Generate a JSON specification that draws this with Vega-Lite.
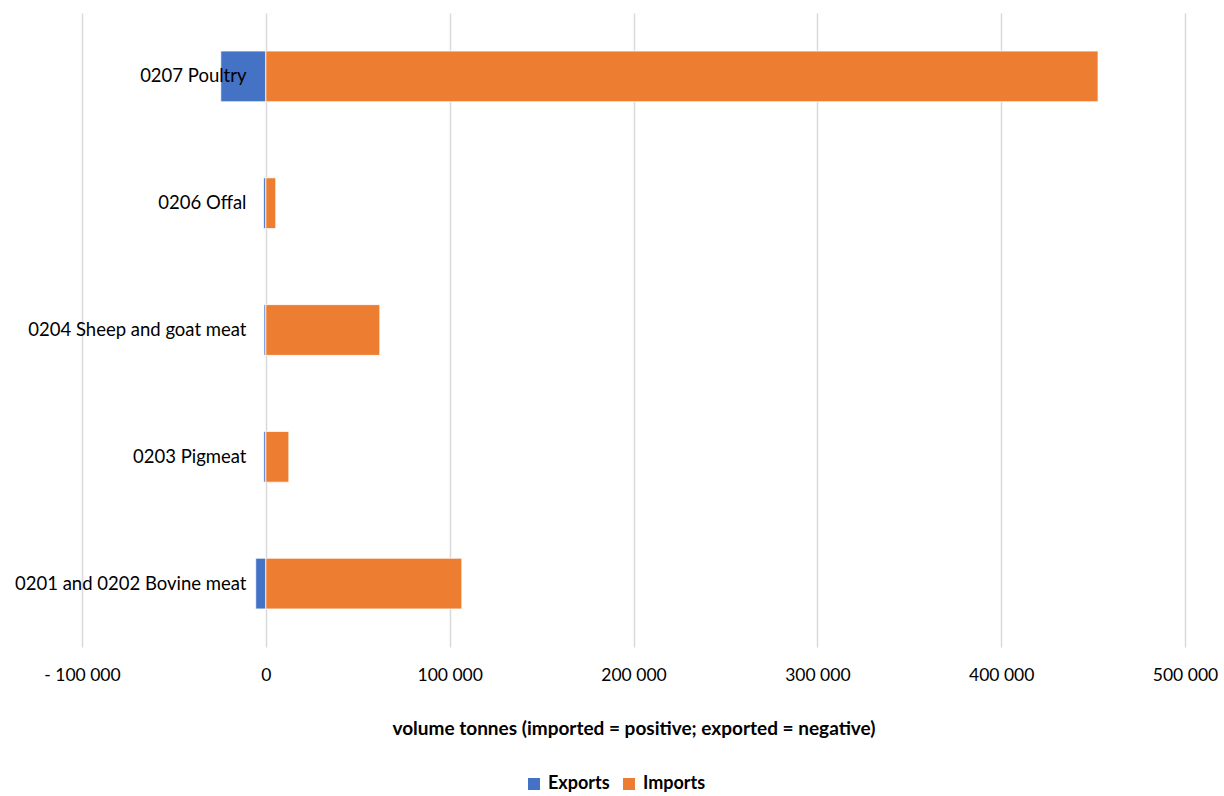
{
  "$schema": "https://vega.github.io/schema/vega-lite/v6.json",
  "autosize": "none",
  "width": 1103,
  "height": 634,
  "padding": {"left": 82, "top": 13, "right": 39, "bottom": 149},
  "background": "white",
  "config": {
    "font": "Lato",
    "view": {"stroke": null}
  },
  "data": {
    "values": [
      {"product": "0207 Poultry", "flow": "Exports", "volume": -24500},
      {"product": "0207 Poultry", "flow": "Imports", "volume": 452700},
      {"product": "0206 Offal", "flow": "Exports", "volume": -1200},
      {"product": "0206 Offal", "flow": "Imports", "volume": 5400},
      {"product": "0204 Sheep and goat meat", "flow": "Exports", "volume": -1000},
      {"product": "0204 Sheep and goat meat", "flow": "Imports", "volume": 62000},
      {"product": "0203 Pigmeat", "flow": "Exports", "volume": -1100},
      {"product": "0203 Pigmeat", "flow": "Imports", "volume": 12500},
      {"product": "0201 and 0202 Bovine meat", "flow": "Exports", "volume": -5500},
      {"product": "0201 and 0202 Bovine meat", "flow": "Imports", "volume": 106600}
    ]
  },
  "mark": {"type": "bar", "stroke": "white", "strokeWidth": 0.75},
  "encoding": {
    "y": {
      "field": "product",
      "type": "nominal",
      "sort": ["0207 Poultry", "0206 Offal", "0204 Sheep and goat meat", "0203 Pigmeat", "0201 and 0202 Bovine meat"],
      "scale": {"paddingInner": 0.6, "paddingOuter": 0.3},
      "axis": {
        "title": null,
        "domain": false,
        "ticks": false,
        "grid": false,
        "zindex": 1,
        "offset": -184,
        "labelPadding": 20,
        "labelFontSize": 18.5,
        "labelColor": "#000000",
        "labelLimit": 400
      }
    },
    "x": {
      "field": "volume",
      "type": "quantitative",
      "stack": "zero",
      "scale": {"domain": [-100000, 500000], "nice": false, "zero": false},
      "axis": {
        "title": "volume tonnes (imported = positive; exported = negative)",
        "titleFontSize": 19,
        "titleFontWeight": "bold",
        "titleColor": "#000000",
        "titlePadding": 36,
        "values": [-100000, 0, 100000, 200000, 300000, 400000, 500000],
        "labelExpr": "datum.value < 0 ? '- ' + replace(format(-datum.value, ','), ',', ' ') : replace(format(datum.value, ','), ',', ' ')",
        "labelFontSize": 17.5,
        "labelColor": "#000000",
        "labelPadding": 19,
        "labelFlush": false,
        "domain": false,
        "ticks": false,
        "grid": true,
        "gridColor": "#d9d9d9",
        "gridWidth": 1.5
      }
    },
    "color": {
      "field": "flow",
      "type": "nominal",
      "scale": {"domain": ["Exports", "Imports"], "range": ["#4472C4", "#ED7D31"]},
      "legend": {
        "title": null,
        "orient": "none",
        "direction": "horizontal",
        "legendX": 443,
        "legendY": 762,
        "symbolType": "square",
        "symbolSize": 144,
        "symbolStrokeWidth": 0,
        "labelFontSize": 18,
        "labelFontWeight": "bold",
        "labelColor": "#000000",
        "columnPadding": 10,
        "labelOffset": 5
      }
    },
    "order": {"field": "flow", "sort": "ascending"}
  }
}
